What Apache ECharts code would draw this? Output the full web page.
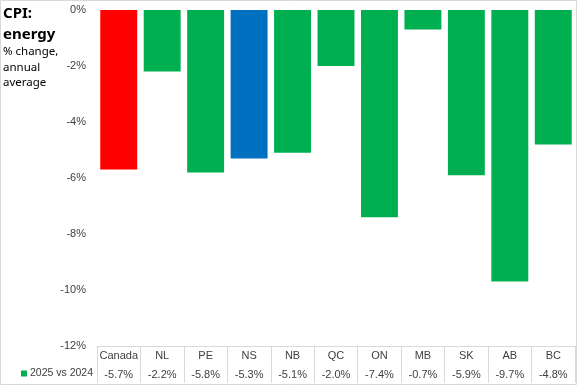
<!DOCTYPE html>
<html><head><meta charset="utf-8">
<script src="https://cdn.jsdelivr.net/npm/echarts@6/dist/echarts.min.js"></script>
<style>html,body{margin:0;padding:0;background:#fff}#c{width:577px;height:385px}</style>
</head><body><div id="c"></div>
<script>
var categories = ['Canada','NL','PE','NS','NB','QC','ON','MB','SK','AB','BC'];
var values = [-5.7,-2.2,-5.8,-5.3,-5.1,-2.0,-7.4,-0.7,-5.9,-9.7,-4.8];
var barColors = {'Canada':'#FF0000','NS':'#0070C0'};
var seriesName = '2025 vs 2024';
var yTicks = {min:-12, max:0, interval:2};

var chart = echarts.init(document.getElementById('c'));
var valueByCat = {};
categories.forEach(function(c,i){valueByCat[c]=values[i];});
chart.setOption({
  animation:false,
  graphic:[{type:'rect',shape:{x:0.5,y:0.5,width:576,height:384},style:{fill:'none',stroke:'#d9d9d9',lineWidth:1},silent:true}],
  title:[
    {text:'CPI:\nenergy',left:3,top:3,padding:0,textStyle:{fontFamily:'Noto Sans',fontSize:15,fontWeight:'bold',color:'#000',lineHeight:21}},
    {text:'% change,\nannual\naverage',left:3,top:44,padding:0,textStyle:{fontFamily:'Noto Sans',fontSize:11.5,fontWeight:'normal',color:'#000',lineHeight:15.5}}
  ],
  legend:{data:[seriesName],left:16,top:363,icon:'rect',itemWidth:6,itemHeight:6,itemGap:4,
    textStyle:{fontFamily:'Liberation Sans',fontSize:10.5,color:'#404040',padding:[0,0,0,-2]}},
  grid:{left:97,right:2,top:10,bottom:39},
  xAxis:{type:'category',data:categories,
    axisLine:{onZero:false,lineStyle:{color:'#d9d9d9'}},
    axisTick:{show:true,length:37,lineStyle:{color:'#d9d9d9'}},
    axisLabel:{margin:0,interval:0,
      formatter:function(v){return '{a|'+v+'}\n{a|'+valueByCat[v].toFixed(1)+'%}';},
      rich:{a:{fontFamily:'Liberation Sans',fontSize:11,color:'#404040',lineHeight:19}}}
  },
  yAxis:{type:'value',min:yTicks.min,max:yTicks.max,interval:yTicks.interval,
    axisLine:{show:false},axisTick:{show:false},splitLine:{show:false},
    axisLabel:{margin:11,fontFamily:'Liberation Sans',fontSize:11,color:'#404040',formatter:function(v){return v+'%';}}
  },
  series:[{name:seriesName,type:'bar',barCategoryGap:'15%',
    itemStyle:{color:'#00B050'},
    data:categories.map(function(c,i){
      var d={value:values[i]};
      if(barColors[c]) d.itemStyle={color:barColors[c]};
      return d;
    })
  }]
});
</script></body></html>
